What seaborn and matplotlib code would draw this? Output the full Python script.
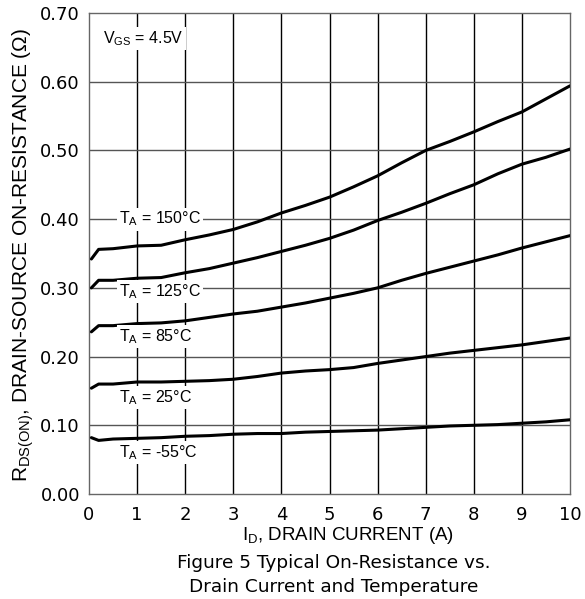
import numpy as np
import pandas as pd
import matplotlib
matplotlib.use("Agg")
import matplotlib.pyplot as plt
import seaborn as sns

# ---- data ----
current_a = [0.05, 0.2, 0.5, 1, 1.5, 2, 2.5, 3, 3.5, 4, 4.5, 5, 5.5, 6, 6.5, 7, 7.5, 8, 8.5, 9, 9.5, 10]
r_150 = [0.342, 0.356, 0.357, 0.361, 0.362, 0.370, 0.377, 0.385, 0.396, 0.409, 0.420, 0.432, 0.447, 0.463, 0.482, 0.500, 0.513, 0.527, 0.542, 0.556, 0.575, 0.594]
r_125 = [0.300, 0.311, 0.311, 0.314, 0.315, 0.322, 0.328, 0.336, 0.344, 0.353, 0.362, 0.372, 0.384, 0.398, 0.410, 0.423, 0.437, 0.450, 0.466, 0.480, 0.490, 0.502]
r_85 = [0.236, 0.245, 0.245, 0.248, 0.249, 0.252, 0.257, 0.262, 0.266, 0.272, 0.278, 0.285, 0.292, 0.300, 0.311, 0.321, 0.330, 0.339, 0.348, 0.358, 0.367, 0.376]
r_25 = [0.154, 0.160, 0.160, 0.163, 0.163, 0.164, 0.165, 0.167, 0.171, 0.176, 0.179, 0.181, 0.184, 0.190, 0.195, 0.200, 0.205, 0.209, 0.213, 0.217, 0.222, 0.227]
r_m55 = [0.082, 0.078, 0.080, 0.081, 0.082, 0.084, 0.085, 0.087, 0.088, 0.088, 0.090, 0.091, 0.092, 0.093, 0.095, 0.097, 0.099, 0.100, 0.101, 0.103, 0.105, 0.108]
temps = ["150", "125", "85", "25", "-55"]
series = [r_150, r_125, r_85, r_25, r_m55]
label_text = ["150°C", "125°C", "85°C", "25°C", "-55°C"]
label_x = [0.62, 0.62, 0.62, 0.62, 0.62]
label_y = [0.400, 0.295, 0.229, 0.140, 0.060]
x_ticks = list(range(0, 11))
y_ticks = [0.0, 0.1, 0.2, 0.3, 0.4, 0.5, 0.6, 0.7]

rows = []
for t, vals in zip(temps, series):
    for x, v in zip(current_a, vals):
        rows.append({"I": x, "R": v, "T": t})
df = pd.DataFrame(rows)

sns.set_theme(style="white")
plt.rcParams["font.family"] = ["Liberation Sans", "DejaVu Sans"]
plt.rcParams["mathtext.default"] = "regular"
plt.rcParams["text.color"] = "black"

W, H = 585, 599
fig = plt.figure(figsize=(W / 100, H / 100), dpi=100)
ax = fig.add_axes([89 / W, 1 - 494 / H, 481 / W, 481 / H])

ax.set_xlim(0, 10)
ax.set_ylim(0, 0.70)
for xv in x_ticks[1:-1]:
    ax.axvline(xv, color="black", lw=1.0, zorder=1)
for yv in y_ticks[1:-1]:
    ax.axhline(yv, color="#555555", lw=1.0, zorder=1)

sns.lineplot(data=df, x="I", y="R", hue="T", palette=["black"] * 5,
             linewidth=2.2, legend=False, ax=ax, zorder=3)

for s in ax.spines.values():
    s.set_color("#666666")
    s.set_linewidth(1.0)

tick_font = ["DejaVu Sans"]
ax.set_xticks(x_ticks)
ax.set_xticklabels([str(v) for v in x_ticks], family=tick_font)
ax.set_yticks(y_ticks)
ax.set_yticklabels([f"{v:.2f}" for v in y_ticks], family=tick_font)
ax.tick_params(axis="both", labelsize=13, length=0, colors="black", labelcolor="black")
ax.tick_params(axis="x", pad=8.5)
ax.tick_params(axis="y", pad=6.5)
ax.set_xlabel("")
ax.set_ylabel("")

# axis titles
fig.text(348 / W, 1 - 540 / H, "I$_D$, DRAIN CURRENT (A)", fontsize=13.5,
         ha="center", va="baseline", color="black")
fig.text(11 / W, 1 - 255 / H, "R$_{DS(ON)}$, DRAIN-SOURCE ON-RESISTANCE (Ω)",
         fontsize=15, rotation=90, ha="left", va="center", color="black")

bbox = dict(facecolor="white", edgecolor="none", pad=1.5)
for lx, ly, lt in zip(label_x, label_y, label_text):
    ax.text(lx, ly, "T$_A$ = " + lt, fontsize=11.5, va="center", ha="left",
            bbox=bbox, zorder=4, color="black")
ax.text(0.3, 0.663, "V$_{GS}$ = 4.5V", fontsize=11.5, va="center", ha="left",
        bbox=bbox, zorder=4, color="black")

cap_font = ["DejaVu Sans"]
fig.text(334 / W, 1 - 568 / H, "Figure 5 Typical On-Resistance vs.", fontsize=13.3,
         ha="center", va="baseline", family=cap_font, color="black")
fig.text(334 / W, 1 - 592 / H, "Drain Current and Temperature", fontsize=13.3,
         ha="center", va="baseline", family=cap_font, color="black")

fig.savefig("out.png", dpi=100)
